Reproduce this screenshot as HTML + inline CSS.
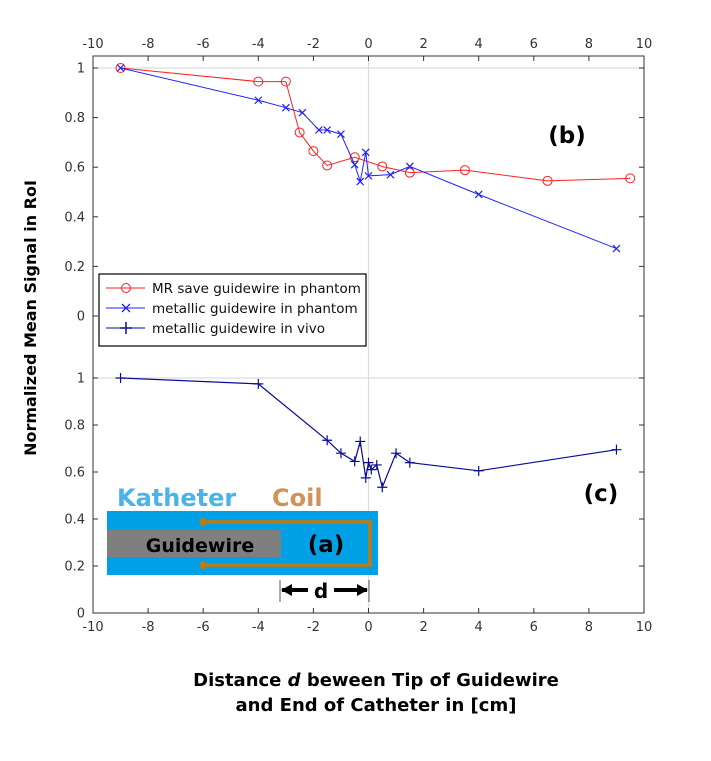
<!DOCTYPE html>
<html><head><meta charset="utf-8"><style>
body{margin:0;background:#fff;width:711px;height:756px;overflow:hidden;font-family:"Liberation Sans","DejaVu Sans",sans-serif}
svg text{font-family:"DejaVu Sans","Liberation Sans",sans-serif}
</style></head><body>
<svg id="c" width="711" height="756"></svg>
<script>
const xTicks=[-10,-8,-6,-4,-2,0,2,4,6,8,10];
const yTickVals=[0,0.2,0.4,0.6,0.8,1];
const yTickLabels=["0","0.2","0.4","0.6","0.8","1"];
const mrX=[-9,-4,-3,-2.5,-2,-1.5,-0.5,0.5,1.5,3.5,6.5,9.5];
const mrY=[1,0.945,0.945,0.74,0.665,0.607,0.64,0.603,0.578,0.588,0.545,0.555];
const metX=[-9,-4,-3,-2.4,-1.8,-1.5,-1,-0.5,-0.3,-0.1,0,0.8,1.5,4,9];
const metY=[1,0.87,0.84,0.82,0.75,0.75,0.733,0.61,0.542,0.66,0.565,0.57,0.603,0.49,0.272];
const vivoX=[-9,-4,-1.5,-1,-0.5,-0.3,-0.1,0,0.1,0.3,0.5,1,1.5,4,9];
const vivoY=[1,0.975,0.735,0.68,0.645,0.73,0.575,0.64,0.61,0.63,0.535,0.68,0.64,0.605,0.695];

const NS="http://www.w3.org/2000/svg";
const svg=document.getElementById('c');
const L=93,R=644,T=56,B=613;
const sx=v=>L+(v+10)/20*(R-L);
const syTop=v=>316-v*248;
const syBot=v=>613-v*235;
function el(tag,attrs,parent){const e=document.createElementNS(NS,tag);for(const k in attrs)e.setAttribute(k,attrs[k]);(parent||svg).appendChild(e);return e;}
function txt(s,attrs,parent){const e=el('text',attrs,parent);e.textContent=s;return e;}

let g=el('line',{x1:sx(0),x2:sx(0),y1:T,y2:B,stroke:'#ddd','stroke-width':1.2});


g=el('line',{x1:L,x2:R,y1:syTop(1),y2:syTop(1),stroke:'#ddd','stroke-width':1.2});


g=el('line',{x1:L,x2:R,y1:syBot(1),y2:syBot(1),stroke:'#ddd','stroke-width':1.2});



let box=el('rect',{x:L,y:T,width:R-L,height:B-T,fill:'none',stroke:'#333','stroke-width':1});



xTicks.forEach(v=>{
  const x=sx(v);
  el('line',{x1:x,x2:x,y1:T,y2:T+5,stroke:'#333'});
  el('line',{x1:x,x2:x,y1:B,y2:B-5,stroke:'#333'});
  let t=txt(String(v),{x:x,y:T-8,'text-anchor':'middle','font-size':13,fill:'#333'});
  
  
  t=txt(String(v),{x:x,y:B+18,'text-anchor':'middle','font-size':13,fill:'#333'});
  
  
});
[syTop,syBot].forEach(f=>{
  yTickVals.forEach((v,i)=>{
    const y=f(v);
    el('line',{x1:L,x2:L+5,y1:y,y2:y,stroke:'#333'});
    el('line',{x1:R,x2:R-5,y1:y,y2:y,stroke:'#333'});
    const t=txt(yTickLabels[i],{x:L-8,y:y+4.5,'text-anchor':'end','font-size':13,fill:'#333'});
    
    
  });
});

function series(xs,ys,f,color,name,marker,w){
  const pts=xs.map((x,i)=>sx(x)+','+f(ys[i])).join(' ');
  const p=el('polyline',{points:pts,fill:'none',stroke:color,'stroke-width':w});
  
  
  xs.forEach((x,i)=>{
    const cx=sx(x),cy=f(ys[i]);
    let m;
    if(marker==='o'){m=el('circle',{cx:cx,cy:cy,r:4.5,fill:'none',stroke:color,'stroke-width':1});}
    else if(marker==='x'){m=el('path',{d:`M${cx-3.5},${cy-3.5}L${cx+3.5},${cy+3.5}M${cx-3.5},${cy+3.5}L${cx+3.5},${cy-3.5}`,stroke:color,'stroke-width':1.2});}
    else {m=el('path',{d:`M${cx-5},${cy}L${cx+5},${cy}M${cx},${cy-5}L${cx},${cy+5}`,stroke:color,'stroke-width':1.2});}
    
    
  });
}
series(mrX,mrY,syTop,'#ff2020','mr-save-phantom','o',1);
series(metX,metY,syTop,'#2020ff','metallic-phantom','x',1);
series(vivoX,vivoY,syBot,'#0a0a9a','metallic-vivo','+',1.2);

const lg=el('g',{});


el('rect',{x:99,y:274,width:267,height:72,fill:'#fff',stroke:'#000','stroke-width':1.2},lg);
const legItems=[['MR save guidewire in phantom','#ff2020','o'],['metallic guidewire in phantom','#2020ff','x'],['metallic guidewire in vivo','#0a0a9a','+']];
legItems.forEach((it,i)=>{
  const y=288+i*20;
  el('line',{x1:106,x2:145,y1:y,y2:y,stroke:it[1]},lg);
  const cx=126;
  if(it[2]==='o')el('circle',{cx:cx,cy:y,r:4.5,fill:'none',stroke:it[1]},lg);
  else if(it[2]==='x')el('path',{d:`M${cx-4},${y-4}L${cx+4},${y+4}M${cx-4},${y+4}L${cx+4},${y-4}`,stroke:it[1],'stroke-width':1.3},lg);
  else el('path',{d:`M${cx-6},${y}L${cx+6},${y}M${cx},${y-6}L${cx},${y+6}`,stroke:it[1],'stroke-width':1.5},lg);
  const t=txt(it[0],{x:152,y:y+5,'font-size':13.5,fill:'#111'},lg);
  
  
});

let t=txt('(b)',{x:567,y:143,'text-anchor':'middle','font-size':23,'font-weight':'bold',fill:'#000'});

t=txt('(c)',{x:601,y:501,'text-anchor':'middle','font-size':23,'font-weight':'bold',fill:'#000'});


const sc=el('g',{});


el('rect',{x:107,y:511,width:271,height:64,fill:'#00a0e6'},sc);
el('rect',{x:107,y:530,width:174,height:27,fill:'#7f7f7f'},sc);
el('path',{d:'M203,522H370V565H203',fill:'none',stroke:'#c07a10','stroke-width':3.5},sc);
el('ellipse',{cx:203,cy:522,rx:3,ry:4.5,fill:'#c07a10'},sc);
el('ellipse',{cx:203,cy:565,rx:3,ry:4.5,fill:'#c07a10'},sc);
txt('Guidewire',{x:200,y:552,'text-anchor':'middle','font-size':19,'font-weight':'bold',fill:'#000'},sc);
txt('(a)',{x:326,y:552,'text-anchor':'middle','font-size':23,'font-weight':'bold',fill:'#000'},sc);
txt('Katheter',{x:117,y:506,'font-size':24,'font-weight':'bold',fill:'#4ab3e8'},sc);
txt('Coil',{x:272,y:506,'font-size':24,'font-weight':'bold',fill:'#d2935a'},sc);
el('line',{x1:280,x2:280,y1:580,y2:602,stroke:'#555'},sc);
el('line',{x1:369,x2:369,y1:580,y2:602,stroke:'#555'},sc);
el('path',{d:'M282,590H308M334,590H367',stroke:'#000','stroke-width':4},sc);
el('path',{d:'M281,590L292,584L292,596Z M368,590L357,584L357,596Z',fill:'#000'},sc);
txt('d',{x:321,y:598,'text-anchor':'middle','font-size':20,'font-weight':'bold',fill:'#000'},sc);

t=txt('Normalized Mean Signal in RoI',{x:0,y:0,'text-anchor':'middle','font-size':16,'font-weight':'bold',fill:'#000',transform:'translate(36,318) rotate(-90)'});

const xt=el('text',{x:376,y:686,'text-anchor':'middle','font-size':18,'font-weight':'bold',fill:'#000'});


xt.innerHTML='Distance <tspan font-style="italic">d</tspan> beween Tip of Guidewire<tspan x="376" dy="25">and End of Catheter in [cm]</tspan>';
</script>
</body></html>
